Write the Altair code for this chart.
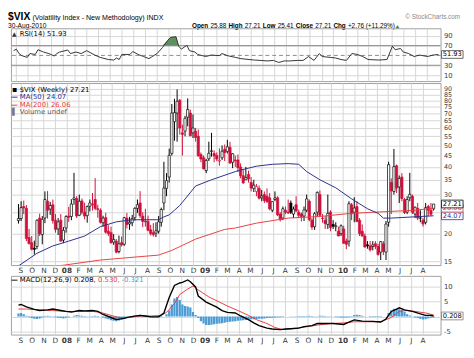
import altair as alt
import pandas as pd

# ---------------- data (weekly $VIX) ----------------
first_week = "2007-08-27"

opens = [
    22.9, 23.4, 26.5, 26.0, 19.2, 18.2, 17.2, 17.5, 23.5, 19.8,
    23.5, 28.0, 25.8, 27.0, 23.0, 21.0, 23.0, 18.7, 21.2, 24.0,
    23.9, 28.5, 28.8, 24.2, 28.1, 25.0, 24.1, 26.6, 27.2, 28.5,
    25.9, 25.5, 22.4, 23.6, 20.5, 20.2, 18.3, 18.5, 16.6, 18.2,
    17.9, 23.5, 22.1, 22.4, 23.6, 26.0, 27.5, 24.0, 22.8, 22.7,
    20.8, 20.2, 20.1, 20.5, 22.5, 27.5, 32.0, 36.0, 46.0, 64.0,
    70.0, 80.0, 57.0, 58.0, 67.0, 70.0, 57.0, 58.0, 55.0, 45.5,
    44.0, 38.5, 43.5, 47.0, 46.0, 45.0, 42.5, 44.0, 48.0, 47.0,
    49.0, 42.0, 43.0, 43.0, 40.0, 36.5, 35.0, 37.0, 34.0, 32.0,
    31.0, 32.0, 29.0, 30.0, 29.5, 29.0, 25.5, 28.5, 29.0, 24.5,
    23.5, 25.5, 25.0, 27.5, 24.5, 27.0, 25.0, 24.5, 24.0, 25.5,
    28.0, 23.0, 21.5, 25.0, 30.0, 23.5, 23.0, 22.0, 25.0, 22.0,
    21.5, 20.5, 20.0, 21.0, 18.5, 18.5, 27.0, 25.0, 26.5, 23.0,
    20.5, 19.5, 17.8, 17.6, 17.5, 18.0, 17.5, 16.5, 18.0, 16.5,
    22.5, 34.0, 31.0, 40.5, 32.5, 36.0, 28.5, 25.0, 29.0, 29.5,
    24.5, 26.0, 23.5, 23.0, 22.5, 26.5, 25.5, 25.88]
highs = [
    27.2, 28.0, 28.2, 26.9, 21.0, 19.5, 18.6, 23.2, 24.6, 24.0,
    31.0, 31.1, 27.8, 28.5, 24.5, 23.5, 24.5, 21.4, 24.2, 26.4,
    28.6, 37.6, 29.5, 30.0, 28.8, 27.6, 26.8, 28.5, 30.5, 35.6,
    27.0, 26.0, 24.1, 24.8, 21.8, 21.5, 19.9, 18.9, 19.6, 19.4,
    23.8, 24.8, 23.8, 24.3, 26.3, 28.5, 31.1, 25.0, 25.9, 24.1,
    21.9, 22.3, 22.5, 24.0, 26.2, 42.2, 37.5, 48.4, 76.9, 81.2,
    89.5, 81.0, 62.0, 68.0, 81.5, 72.5, 69.0, 60.0, 59.0, 46.5,
    45.0, 43.5, 52.0, 57.0, 47.5, 46.5, 48.5, 50.0, 50.5, 53.0,
    51.9, 46.0, 45.0, 45.5, 41.5, 39.0, 40.0, 38.5, 36.0, 35.0,
    33.5, 33.0, 31.5, 31.0, 32.0, 30.5, 28.0, 31.0, 29.5, 25.0,
    26.5, 26.5, 28.5, 28.2, 26.5, 29.5, 25.7, 24.9, 26.5, 30.0,
    28.5, 23.5, 25.0, 31.0, 31.3, 24.5, 24.0, 30.0, 25.5, 23.0,
    22.5, 21.5, 22.0, 21.7, 19.0, 28.0, 27.5, 29.2, 28.0, 23.5,
    22.0, 20.0, 18.5, 18.5, 18.5, 18.5, 18.0, 18.5, 18.5, 22.8,
    42.2, 35.5, 48.2, 41.0, 36.6, 37.5, 29.0, 29.5, 37.6, 30.0,
    26.5, 27.5, 25.5, 23.5, 27.5, 27.0, 27.5, 27.21]
lows = [
    22.2, 22.8, 24.5, 18.5, 17.9, 16.8, 16.1, 17.0, 19.5, 17.9,
    22.3, 23.4, 24.3, 22.2, 20.2, 19.7, 18.4, 18.1, 20.2, 22.6,
    23.0, 27.0, 23.5, 24.0, 24.4, 23.2, 22.4, 25.2, 25.4, 25.5,
    23.6, 22.2, 21.5, 20.0, 19.5, 18.0, 17.8, 16.3, 16.3, 17.5,
    17.6, 21.1, 20.8, 21.6, 22.9, 24.8, 23.5, 21.4, 21.5, 20.5,
    19.6, 19.4, 19.3, 20.0, 21.5, 25.5, 29.5, 34.0, 45.0, 52.5,
    52.0, 56.0, 45.0, 55.0, 61.0, 55.0, 54.0, 52.0, 44.5, 42.0,
    39.0, 37.5, 42.5, 44.5, 42.0, 42.5, 40.5, 43.0, 42.5, 46.0,
    41.5, 39.5, 40.0, 38.0, 35.5, 33.5, 35.0, 34.0, 31.0, 30.8,
    29.5, 28.5, 28.0, 27.5, 27.5, 25.5, 25.0, 28.0, 24.0, 22.7,
    23.0, 24.5, 24.5, 24.5, 23.5, 25.0, 23.5, 22.7, 22.8, 25.0,
    22.7, 20.8, 20.8, 24.0, 24.0, 22.4, 21.0, 21.0, 20.5, 21.0,
    20.5, 19.5, 19.5, 18.0, 17.0, 17.5, 23.0, 22.5, 22.5, 19.5,
    19.4, 17.3, 17.1, 16.6, 16.8, 17.0, 15.9, 15.2, 16.0, 15.2,
    21.5, 24.5, 30.0, 30.5, 27.5, 28.0, 24.5, 24.5, 28.0, 24.5,
    23.5, 23.0, 22.5, 21.5, 22.0, 24.0, 24.0, 25.41]
closes = [
    23.4, 26.2, 26.1, 19.0, 18.0, 17.0, 17.0, 22.96, 19.97, 23.2,
    28.5, 25.5, 26.8, 22.9, 20.9, 22.6, 18.5, 20.7, 23.9, 23.7,
    27.2, 29.0, 24.0, 28.0, 25.0, 24.0, 26.5, 27.5, 27.0, 26.0,
    25.7, 22.5, 23.5, 20.3, 20.0, 18.2, 18.8, 16.5, 18.0, 17.8,
    23.6, 22.0, 22.5, 23.4, 26.0, 27.0, 24.1, 22.7, 22.6, 20.7,
    20.0, 19.8, 20.6, 22.6, 25.7, 32.1, 34.7, 45.1, 70.0, 70.3,
    79.1, 59.9, 56.1, 66.3, 72.7, 55.3, 59.9, 54.3, 44.9, 43.4,
    39.2, 42.8, 46.1, 47.3, 44.8, 43.4, 42.9, 47.1, 46.4, 49.3,
    41.6, 45.9, 42.6, 39.7, 36.5, 33.9, 35.8, 35.3, 32.1, 33.1,
    32.6, 28.9, 29.6, 28.2, 27.9, 25.9, 27.9, 29.0, 24.3, 23.1,
    25.9, 25.0, 24.8, 25.0, 25.8, 25.3, 24.2, 23.9, 25.6, 28.7,
    23.1, 21.4, 24.6, 30.7, 24.2, 23.4, 22.2, 24.7, 21.3, 21.6,
    21.7, 19.5, 21.7, 18.1, 17.9, 27.3, 24.6, 26.1, 22.7, 20.0,
    19.5, 17.4, 17.6, 16.9, 17.8, 17.5, 16.1, 18.4, 16.6, 22.1,
    40.95, 31.2, 40.1, 32.1, 35.5, 28.8, 24.9, 28.5, 30.1, 25.0,
    26.3, 23.5, 23.5, 22.1, 26.2, 25.5, 24.45, 27.21]

# RSI(14): week index -> value
rsi_idx = [0, 1, 2, 3, 5, 6, 8, 9, 11, 13, 15, 16, 17, 20, 21, 23, 25, 27, 30, 32,
           35, 37, 38, 39, 40, 43, 44, 46, 48, 50, 53, 55, 57, 58, 60, 61, 62, 64, 65, 67,
           68, 71, 73, 76, 77, 79, 82, 84, 87, 89, 91, 94, 96, 98, 100, 102, 105, 107, 109, 111,
           113, 114, 117, 119, 121, 123, 125, 127, 129, 131, 135, 138, 140, 141, 143, 144, 146, 148, 150, 153,
           155, 157]
rsi_val = [59.7, 62.8, 53.8, 49.6, 46.0, 53.8, 52.0, 61.6, 56.9, 53.8, 48.9, 53.8, 56.9, 61.0, 53.8, 56.9, 53.8, 59.7, 50.7, 46.0,
           41.7, 40.6, 44.8, 41.7, 52.0, 52.0, 58.0, 52.0, 47.8, 43.5, 53.8, 65.9, 80.9, 86.8, 88.0, 68.8, 62.8, 70.6, 59.7, 56.9,
           52.0, 47.8, 50.7, 49.6, 53.8, 49.6, 46.0, 43.5, 41.7, 40.6, 39.9, 38.8, 39.9, 35.7, 38.8, 38.8, 39.9, 39.9, 47.8, 39.9,
           53.8, 47.8, 46.0, 44.8, 41.7, 39.9, 53.8, 52.0, 47.8, 41.7, 40.6, 41.7, 68.8, 61.6, 64.1, 56.9, 53.8, 47.8, 50.7, 47.8,
           50.7, 51.93]
rsi_bands = [30, 70]
rsi_mid = [50]

# moving averages: week index -> value
ma50_idx = [0, 7, 13, 19, 25, 31, 37, 43, 49, 53, 55, 57, 59, 61, 62, 67, 73, 82, 84, 90,
            96, 102, 106, 109, 114, 120, 126, 132, 136, 138, 141, 157]
ma50_val = [14.3, 16.3, 17.6, 18.5, 19.5, 21.5, 22.6, 23.1, 23.1, 23.1, 23.8, 24.3, 25.5, 26.8, 27.7, 32.8, 35.0, 38.1, 38.7, 40.3,
            41.1, 41.4, 41.1, 38.1, 35.0, 32.2, 28.7, 25.9, 24.7, 23.5, 23.5, 24.07]
ma200_idx = [10, 17, 31, 53, 58, 67, 78, 82, 90, 102, 114, 126, 138, 150, 157]
ma200_val = [14.1, 14.4, 15.2, 16.0, 16.8, 18.9, 20.9, 21.2, 22.3, 23.5, 23.9, 24.7, 25.1, 25.5, 26.06]

# MACD(12,26,9)
macd_idx = [0, 1, 3, 6, 8, 11, 13, 16, 18, 20, 23, 25, 28, 30, 32, 35, 37, 40, 42, 46,
            48, 50, 53, 55, 57, 59, 61, 62, 64, 65, 67, 68, 71, 75, 77, 79, 82, 84, 87, 89,
            91, 94, 96, 99, 101, 103, 106, 108, 111, 113, 115, 119, 123, 125, 127, 130, 134, 137, 139, 141,
            143, 144, 146, 149, 152, 154, 156, 157]
macd_val = [3.8, 4.0, 3.2, 2.4, 2.0, 2.2, 2.5, 2.0, 1.7, 1.5, 2.0, 1.9, 2.0, 1.7, 0.7, -0.3, -1.0, -0.6, -0.1, 0.4,
            0.2, -0.1, -0.1, 1.2, 6.3, 10.3, 11.1, 11.3, 12.1, 11.5, 9.8, 6.8, 4.8, 3.1, 2.0, 1.4, 1.2, 0.2, -1.0, -2.1,
            -3.0, -3.8, -4.1, -4.3, -4.1, -4.0, -3.8, -3.3, -3.0, -2.3, -2.3, -2.3, -2.6, -1.8, -1.1, -1.5, -1.6, -1.8, -0.8, 1.7,
            2.5, 2.9, 2.2, 1.7, 0.9, 0.4, 0.4, 0.208]
sig_idx = [0, 3, 8, 13, 18, 23, 28, 31, 35, 38, 42, 46, 50, 54, 56, 59, 61, 64, 66, 68,
           72, 76, 79, 83, 87, 90, 94, 97, 100, 103, 108, 113, 118, 123, 127, 132, 137, 141, 144, 147,
           150, 154, 157]
sig_val = [2.5, 2.5, 2.2, 2.0, 1.7, 1.7, 1.7, 1.4, 0.4, -0.3, -0.3, 0.2, 0.2, 0.4, 1.4, 4.3, 7.3, 9.1, 10.1, 8.8,
           6.5, 4.8, 3.5, 2.0, 0.4, -1.0, -2.3, -3.6, -4.3, -4.0, -3.5, -2.8, -2.3, -2.1, -1.7, -1.7, -1.7, -0.3, 1.7, 2.0,
           1.7, 1.2, 0.53]
hist_val = [1.0, 1.2, 0.8, 0.3, -0.2,
            -0.5, -0.7, -0.8, -0.6, -0.3, -0.1, 0.3, 0.2,
            0.1, -0.2, -0.4, -0.5, -0.6, -0.4, -0.2, 0.0,
            0.3, 0.5, 0.4, 0.3, 0.2, 0.1, 0.1, 0.2, 0.3,
            0.2, 0.0, -0.3, -0.6, -0.9, -1.2, -1.4, -1.5, -1.3, -1.0, -0.7,
            -0.3, 0.0, 0.2, 0.4, 0.5, 0.6, 0.4, 0.2, 0.0, -0.1, -0.2, -0.2,
            -0.2, -0.1, 0.0, 0.8,
            2.0, 4.0, 6.0, 6.5, 5.5, 4.0, 3.5, 3.3, 3.0, 1.5,
            0.5, -0.5, -1.5, -2.3, -2.8, -2.8,
            -2.7, -2.5, -2.4, -2.3, -2.2, -2.0, -1.8, -1.7, -1.6, -1.5, -1.4, -1.3, -1.2,
            -1.1, -1.0, -0.9, -0.9, -0.8, -0.7, -0.7, -0.6, -0.5, -0.5, -0.4, -0.3, -0.2, -0.2, -0.1,
            0.0, 0.0, 0.1, 0.1, 0.1, 0.2, 0.2, 0.2, 0.2, 0.3, 0.2, 0.1, 0.1, 0.3, 0.3, 0.2, 0.1, 0.1, 0.0, -0.1,
            -0.2, -0.3, -0.3, -0.3, -0.2, 0.2, 0.5, 0.6, 0.5, 0.3,
            0.1, 0.0, -0.1, -0.1, -0.1, -0.1, -0.1, 0.0, 0.0,
            1.2, 2.0, 2.6, 2.5, 2.4, 2.2, 1.5, 0.8, 0.4,
            0.1, -0.3, -0.5, -0.8, -1.0, -0.9, -0.6, -0.4, -0.32]

last_rsi = 51.93
last_close, last_ma50, last_ma200 = 27.21, 24.07, 26.06
last_macd, last_sig, last_hist = 0.208, 0.530, -0.321

# ---------------- styling ----------------
W = 439
H_HEAD, H_RSI, GAP1, H_MAIN, GAP2, H_MACD = 17, 54, 2, 186, 11, 60
HF = "Liberation Sans"
AF = "DejaVu Sans"
RED = "#d0103a"
NAVY = "#2d2d8c"
MARED = "#e8403f"
HISTC = "#4b9cd5"
GRID = "#d6d6d6"
LAB = "#3a3a3a"
BOX = "M0,-0.36L2,-0.36L2,0.36L0,0.36Z"

# ---------------- frames ----------------
dates = pd.date_range(first_week, periods=len(closes), freq="7D")
prev = [opens[0]] + closes[:-1]
col = [RED if c < p else "#000000" for c, p in zip(closes, prev)]
fillc = ["#ffffff" if c > o else k for c, o, k in zip(closes, opens, col)]
candles = pd.DataFrame(dict(date=dates, open=opens, high=highs, low=lows,
                            close=closes, col=col, fill=fillc))


def series(idx, val):
    return pd.DataFrame({"date": dates[idx], "v": val})


rsi_df = series(rsi_idx, rsi_val)
rsi_fill_df = series(rsi_idx, [max(v, 70) for v in rsi_val])
ma50_df = series(ma50_idx, ma50_val)
ma200_df = series(ma200_idx, ma200_val)
macd_df = series(macd_idx, macd_val)
sig_df = series(sig_idx, sig_val)
hist_df = pd.DataFrame({"date": dates, "v": hist_val})
one = pd.DataFrame({"k": [0]})

# ---------------- axes ----------------
month_vals = [alt.DateTime(year=int(d.year), month=int(d.month), date=1)
              for d in pd.date_range("2007-09-01", "2010-08-01", freq="MS")]
X_SCALE = alt.Scale(domain=[alt.DateTime(year=2007, month=8, date=20),
                            alt.DateTime(year=2010, month=9, date=4, hours=12)])
LBL = ("month(datum.value) == 0 ? timeFormat(datum.value, '%y') : "
       "slice(timeFormat(datum.value, '%b'), 0, 1)")
AX_GRID = alt.Axis(values=month_vals, labels=False, ticks=False, domain=False,
                   grid=True, gridColor=GRID, title=None)
AX_LAB = alt.Axis(values=month_vals, labelExpr=LBL,
                  labelFontWeight={"condition": {"test": "month(datum.value) == 0", "value": "bold"},
                                   "value": "normal"},
                  labelFont=AF, labelFontSize=7.5, labelColor=LAB, labelPadding=2,
                  labelFlush=False, labelOverlap=False, ticks=False, domain=False,
                  grid=True, gridColor=GRID, title=None)


def xe(ax):
    return alt.X("date:T", scale=X_SCALE, axis=ax, title=None)


def yaxis(values, expr=None, fmt=None, size=7):
    kw = dict(orient="right", values=values, grid=True, gridColor=GRID, ticks=False,
              domain=False, labelFont=AF, labelFontSize=size, labelColor=LAB,
              labelPadding=3, labelOverlap=False, title=None)
    if expr:
        kw["labelExpr"] = expr
    if fmt:
        kw["format"] = fmt
    return alt.Axis(**kw)


def text(s, x, y, size=7, color="#000000", weight="normal", font=AF, align="left",
         baseline="middle"):
    return alt.Chart(one).mark_text(text=s, fontSize=size, color=color, fontWeight=weight,
                                    font=font, align=align, baseline=baseline).encode(
        x=alt.value(x), y=alt.value(y))


def vbox(val, lab, yenc_fn, stroke, tcolor):
    df = pd.DataFrame({"v": [val], "lab": [lab]})
    b = alt.Chart(df).mark_point(shape=BOX, size=484, filled=True, fill="white", stroke=stroke,
                                 strokeWidth=0.8, opacity=1).encode(x=alt.value(W + 1), y=yenc_fn())
    t = alt.Chart(df).mark_text(font=AF, fontSize=6.8, color=tcolor, align="center",
                                baseline="middle").encode(x=alt.value(W + 12), y=yenc_fn(), text="lab:N")
    return [b, t]


NOSTROKE = alt.ViewBackground(strokeOpacity=0)

# ---------------- header ----------------
HY = 16.3
header = alt.layer(
    text("$VIX", -3, 8.6, size=10.5, weight="bold", font=HF, baseline="alphabetic"),
    text("(Volatility Index - New Methodology) INDX", 22, 8.6, size=7.2, font=HF,
         baseline="alphabetic"),
    text("\u00a9 StockCharts.com", W + 20, 7.5, size=6.5, color="#8a8a8a", font=HF,
         align="right", baseline="alphabetic"),
    text("30-Aug-2010", -3, HY, size=6.8, font=HF, baseline="alphabetic"),
    text("Open", 185, HY, size=6.5, weight="bold", font=HF, baseline="alphabetic"),
    text("25.88", 203.8, HY, size=6.5, font=HF, baseline="alphabetic"),
    text("High", 222.3, HY, size=6.5, weight="bold", font=HF, baseline="alphabetic"),
    text("27.21", 238.9, HY, size=6.5, font=HF, baseline="alphabetic"),
    text("Low", 257.4, HY, size=6.5, weight="bold", font=HF, baseline="alphabetic"),
    text("25.41", 272.6, HY, size=6.5, font=HF, baseline="alphabetic"),
    text("Close", 291.1, HY, size=6.5, weight="bold", font=HF, baseline="alphabetic"),
    text("27.21", 311, HY, size=6.5, font=HF, baseline="alphabetic"),
    text("Chg", 329.5, HY, size=6.5, weight="bold", font=HF, baseline="alphabetic"),
    text("+2.76 (+11.29%)", 344.3, HY, size=6.5, font=HF, baseline="alphabetic"),
    text("\u25b2", 393, HY, size=5, color="#2a8a2a", font=AF, baseline="alphabetic"),
).properties(width=W, height=H_HEAD, view=NOSTROKE)

# ---------------- RSI panel ----------------
YS_RSI = alt.Scale(domain=[-2.2, 105.2], nice=False, zero=False)
AX_RSI = yaxis([10, 30, 70, 90])


def yr():
    return alt.Y("v:Q", scale=YS_RSI, axis=AX_RSI, title=None)


rsi = alt.layer(
    alt.Chart(pd.DataFrame({"v": rsi_bands})).mark_rule(color="#8c8c8c", strokeWidth=1).encode(y=yr()),
    alt.Chart(pd.DataFrame({"v": rsi_mid})).mark_rule(color="#8c8c8c", strokeWidth=1,
                                                     strokeDash=[4, 3]).encode(y=yr()),
    alt.Chart(rsi_fill_df).mark_area(color="#5e8f5e", opacity=1, clip=True).encode(
        x=xe(AX_GRID), y=yr(), y2=alt.datum(70)),
    alt.Chart(rsi_df).mark_line(color="#333333", strokeWidth=1, clip=True).encode(
        x=xe(AX_GRID), y=yr()),
    *vbox(last_rsi, "51.93", yr, "#444444", "#000000"),
    text("\u25b2", 1, 5.5, size=6, color="#333333"),
    text("RSI(14) 51.93", 9, 5.5, size=7),
).properties(width=W, height=H_RSI)

# ---------------- price panel ----------------
YS_MAIN = alt.Scale(type="log", domain=[14.42, 95.6], nice=False, zero=False)
AX_MAIN = yaxis([15, 20, 25, 30, 35, 40, 45, 50, 55, 60, 65, 70, 75, 80, 85, 90],
                expr="datum.value == 25 ? '' : datum.label", fmt="d", size=6.5)


def ym(field="v"):
    return alt.Y(f"{field}:Q", scale=YS_MAIN, axis=AX_MAIN, title=None)


main = alt.layer(
    alt.Chart(candles).mark_rule(strokeWidth=1, clip=True).encode(
        x=xe(AX_LAB), y=ym("low"), y2="high:Q", color=alt.Color("col:N", scale=None)),
    alt.Chart(candles).mark_bar(size=2.3, strokeWidth=0.7, clip=True).encode(
        x=xe(AX_LAB), y=ym("open"), y2="close:Q",
        fill=alt.Fill("fill:N", scale=None), stroke=alt.Stroke("col:N", scale=None)),
    alt.Chart(ma200_df).mark_line(color=MARED, strokeWidth=1, clip=True).encode(x=xe(AX_LAB), y=ym()),
    alt.Chart(ma50_df).mark_line(color=NAVY, strokeWidth=1, clip=True).encode(x=xe(AX_LAB), y=ym()),
    *vbox(last_ma50, "24.07", ym, NAVY, NAVY),
    *vbox(last_ma200, "26.06", ym, MARED, MARED),
    *vbox(last_close, "27.21", ym, "#000000", "#000000"),
    text("\u25aa", 1, 7, size=8, color="#000000"),
    text("$VIX (Weekly) 27.21", 9, 7, size=7),
    text("\u2014", 0, 14.5, size=7, color=NAVY, weight="bold"),
    text("MA(50) 24.07", 9, 14.5, size=7, color=NAVY),
    text("\u2014", 0, 22, size=7, color=MARED, weight="bold"),
    text("MA(200) 26.06", 9, 22, size=7, color=MARED),
    text("\u258c", 1, 29.5, size=7, color="#777777"),
    text("Volume undef", 9, 29.5, size=7, color="#555555"),
).properties(width=W, height=H_MAIN)

# ---------------- MACD panel ----------------
YS_MACD = alt.Scale(domain=[-5.94, 13.45], nice=False, zero=False)
AX_MACD = yaxis([-5, 0, 5, 10], expr="datum.value == 0 ? '' : datum.value < 0 ? '-5' : datum.label")


def yd():
    return alt.Y("v:Q", scale=YS_MACD, axis=AX_MACD, title=None)


macd = alt.layer(
    alt.Chart(hist_df).mark_bar(size=2.3, color=HISTC, clip=True).encode(
        x=xe(AX_LAB), y=yd(), y2=alt.datum(0)),
    alt.Chart(sig_df).mark_line(color=MARED, strokeWidth=1, clip=True).encode(x=xe(AX_LAB), y=yd()),
    alt.Chart(macd_df).mark_line(color="#000000", strokeWidth=1.4, clip=True).encode(x=xe(AX_LAB), y=yd()),
    *vbox(last_macd, "0.208", yd, "#777777", "#000000"),
    text("\u2014", 0, 4.5, size=7, weight="bold"),
    text("MACD(12,26,9) 0.208,", 9, 4.5, size=7),
    text("0.530,", 89, 4.5, size=7, color=MARED),
    text("-0.321", 113, 4.5, size=7, color=HISTC),
).properties(width=W, height=H_MACD)


def spacer(h):
    return alt.Chart(one).mark_point(opacity=0).properties(width=W, height=h, view=NOSTROKE)


chart = alt.vconcat(
    header, rsi, spacer(GAP1), main, spacer(GAP2), macd,
    spacing=0, bounds="flush",
).properties(
    padding={"left": 0, "top": 0, "right": 0, "bottom": 0}
).configure_view(
    stroke="#a0a0a0", strokeWidth=1
)

chart.save("out.html", embed_options={"renderer": "svg", "actions": False})
